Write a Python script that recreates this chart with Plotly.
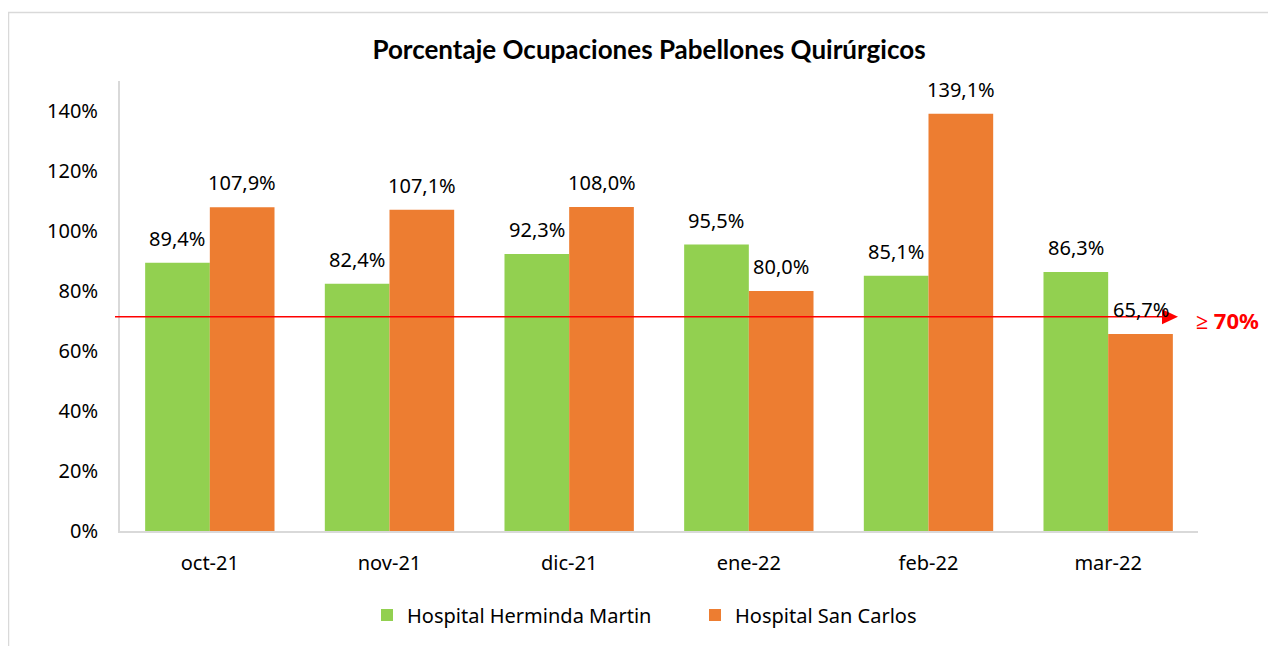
import plotly.graph_objects as go

months = ["oct-21", "nov-21", "dic-21", "ene-22", "feb-22", "mar-22"]
herminda = [89.4, 82.4, 92.3, 95.5, 85.1, 86.3]
san_carlos = [107.9, 107.1, 108.0, 80.0, 139.1, 65.7]
series_names = ["Hospital Herminda Martin", "Hospital San Carlos"]
threshold_value = 71.4
threshold_label = "≥ 70%"
title_text = "Porcentaje Ocupaciones Pabellones Quirúrgicos"
y_ticks = [0, 20, 40, 60, 80, 100, 120, 140]

GREEN = "#92D050"
ORANGE = "#ED7D31"
FONT = "Noto Sans"

# page body has an 8px margin: work in reference pixels, offset by 8
OFF = 8
W, H = 1276 - OFF, 646 - OFF
L, R, T, B = 120 - OFF, 1276 - 1198, 81 - OFF, 646 - 531
pw, ph = W - L - R, H - T - B

def px_x(p):
    return (p - OFF - L) / pw

def px_y(p):
    return (H - B - (p - OFF)) / ph

fig = go.Figure()
fig.add_trace(go.Bar(x=months, y=herminda, name=series_names[0], marker_color=GREEN,
                     marker_line_width=0))
fig.add_trace(go.Bar(x=months, y=san_carlos, name=series_names[1], marker_color=ORANGE,
                     marker_line_width=0))

annotations = []
for vals, shift in ((herminda, -32.5), (san_carlos, 32.5)):
    for m, v in zip(months, vals):
        annotations.append(dict(x=m, y=v, xref="x", yref="y", text=f"{v:.1f}%".replace(".", ","),
                                showarrow=False, xshift=shift, yshift=9, yanchor="bottom",
                                font=dict(family=FONT, size=20, color="#000000")))

annotations.append(dict(x=px_x(1194), y=threshold_value, xref="paper", yref="y",
                        text=f"<b>{threshold_label}</b>", showarrow=False, xanchor="left",
                        yanchor="middle", yshift=-3,
                        font=dict(family=FONT, size=22, color="#FF0000")))

shapes = [
    dict(type="line", xref="paper", yref="y", x0=px_x(115), x1=px_x(1165),
         y0=threshold_value, y1=threshold_value, line=dict(color="#FF0000", width=1.5), layer="above"),
    dict(type="path", xref="paper", yref="y",
         path=f"M {px_x(1162)},{threshold_value + 2.5} L {px_x(1178)},{threshold_value} L {px_x(1162)},{threshold_value - 2.5} Z",
         fillcolor="#FF0000", line=dict(color="#FF0000", width=0), layer="above"),
    dict(type="rect", xref="paper", yref="paper", x0=px_x(8.5), x1=px_x(1400),
         y0=px_y(700), y1=px_y(12.5), line=dict(color="#D9D9D9", width=1.5), layer="below"),
]

fig.update_layout(
    width=W, height=H,
    margin=dict(l=L, r=R, t=T, b=B),
    paper_bgcolor="white", plot_bgcolor="white",
    barmode="group", bargap=0.28, bargroupgap=0,
    font=dict(family=FONT, size=20, color="#000000"),
    title=dict(text=f"<b>{title_text}</b>", x=(649 - OFF) / W, xref="container", xanchor="center",
               y=1 - (50 - OFF) / H, yref="container", yanchor="middle",
               font=dict(family="Lato", size=26, color="#000000")),
    xaxis=dict(showline=True, linecolor="#D9D9D9", linewidth=2, ticks="", showgrid=False,
               tickfont=dict(family=FONT, size=20), ticklabelstandoff=13),
    yaxis=dict(range=[0, 150], tickvals=y_ticks,
               ticktext=[f"{v}%" for v in y_ticks],
               showline=True, linecolor="#D9D9D9", linewidth=2, ticks="", showgrid=False,
               zeroline=False, tickfont=dict(family=FONT, size=20), ticklabelstandoff=16),
    legend=dict(orientation="h", xref="container", x=(367 - OFF) / W, xanchor="left",
                yref="container", y=1 - (615 - OFF) / H, yanchor="middle",
                font=dict(family=FONT, size=20), itemwidth=30, traceorder="normal",
                entrywidth=283, entrywidthmode="pixels"),
    annotations=annotations,
    shapes=shapes,
    showlegend=True,
)

fig.write_html("out.html")
